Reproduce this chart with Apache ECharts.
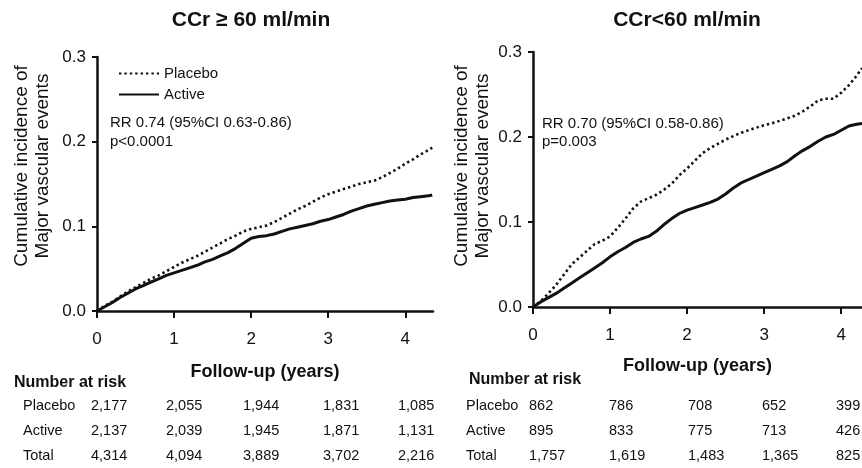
<!DOCTYPE html>
<html>
<head>
<meta charset="utf-8">
<script src="https://cdn.jsdelivr.net/npm/echarts@6/dist/echarts.min.js"></script>
<style>
html,body{margin:0;padding:0;background:#fff;}
#c{width:862px;height:468px;}
</style>
</head>
<body>
<div id="c"></div>
<script>
// ---- Data ----
const panelTitles = ['CCr \u2265 60 ml/min', 'CCr<60 ml/min'];
const seriesNames = ['Placebo', 'Active'];
const yTicks = [0, 0.1, 0.2, 0.3];
const xTicks = [0, 1, 2, 3, 4];

// Left panel (CCr >= 60)
const leftTime = [0,0.1,0.2,0.3,0.4,0.5,0.6,0.7,0.8,0.9,1.0,1.1,1.2,1.3,1.4,1.5,1.6,1.7,1.8,1.9,2.0,2.1,2.2,2.3,2.4,2.5,2.6,2.7,2.8,2.9,3.0,3.1,3.2,3.3,3.4,3.5,3.6,3.7,3.8,3.9,4.0,4.1,4.2,4.3,4.35];
const leftPlacebo = [0,0.006,0.011,0.017,0.023,0.028,0.033,0.038,0.042,0.047,0.052,0.057,0.061,0.065,0.070,0.075,0.080,0.085,0.089,0.094,0.097,0.099,0.101,0.105,0.110,0.115,0.120,0.124,0.129,0.134,0.138,0.141,0.144,0.147,0.150,0.152,0.154,0.158,0.163,0.168,0.174,0.179,0.185,0.190,0.193];
const leftActive = [0,0.005,0.010,0.016,0.021,0.026,0.030,0.034,0.038,0.042,0.045,0.048,0.051,0.054,0.058,0.061,0.065,0.069,0.074,0.080,0.086,0.088,0.089,0.091,0.094,0.097,0.099,0.101,0.103,0.106,0.108,0.111,0.114,0.118,0.121,0.124,0.126,0.128,0.130,0.131,0.132,0.134,0.135,0.136,0.137];

// Right panel (CCr < 60)
const rightTime = [0,0.1,0.2,0.3,0.4,0.5,0.6,0.7,0.8,0.9,1.0,1.1,1.2,1.3,1.4,1.5,1.6,1.7,1.8,1.9,2.0,2.1,2.2,2.3,2.4,2.5,2.6,2.7,2.8,2.9,3.0,3.1,3.2,3.3,3.4,3.5,3.6,3.7,3.8,3.9,4.0,4.1,4.2,4.27];
const rightPlacebo = [0,0.007,0.016,0.026,0.038,0.050,0.058,0.066,0.074,0.078,0.083,0.093,0.104,0.116,0.124,0.128,0.132,0.138,0.145,0.155,0.163,0.172,0.181,0.187,0.192,0.197,0.201,0.205,0.208,0.211,0.214,0.216,0.219,0.222,0.225,0.230,0.236,0.243,0.245,0.245,0.252,0.261,0.272,0.281];
const rightActive = [0,0.006,0.011,0.016,0.022,0.028,0.034,0.040,0.046,0.052,0.059,0.065,0.070,0.076,0.080,0.083,0.089,0.097,0.104,0.110,0.114,0.117,0.120,0.123,0.127,0.133,0.140,0.146,0.150,0.154,0.158,0.162,0.166,0.171,0.178,0.184,0.189,0.195,0.200,0.203,0.208,0.213,0.215,0.216];

const leftStats = ['RR 0.74 (95%CI 0.63-0.86)', 'p<0.0001'];
const rightStats = ['RR 0.70 (95%CI 0.58-0.86)', 'p=0.003'];

const riskHeader = 'Number at risk';
const riskRows = ['Placebo', 'Active', 'Total'];
const leftRiskPlacebo = [2177, 2055, 1944, 1831, 1085];
const leftRiskActive = [2137, 2039, 1945, 1871, 1131];
const leftRiskTotal = [4314, 4094, 3889, 3702, 2216];
const rightRiskPlacebo = [862, 786, 708, 652, 399];
const rightRiskActive = [895, 833, 775, 713, 426];
const rightRiskTotal = [1757, 1619, 1483, 1365, 825];

const yAxisName = ['Cumulative incidence of', 'Major vascular events'];
const xAxisName = 'Follow-up (years)';

// ---- Chart ----
const FONT = '"Liberation Sans", Arial, sans-serif';
const chart = echarts.init(document.getElementById('c'), null, {renderer: 'canvas'});
const zip = (t, v) => t.map((x, i) => [x, v[i]]);
const fmt = n => n.toLocaleString('en-US');

function xAxisCfg(gi, max, gap) {
  return {
    type: 'value', gridIndex: gi, min: 0, max: max,
    name: xAxisName, nameLocation: 'middle', nameGap: gap,
    nameTextStyle: {fontFamily: FONT, fontSize: 18, fontWeight: 'bold', color: '#111'},
    axisLine: {show: true, onZero: false, lineStyle: {color: '#111', width: 2.5}},
    axisTick: {show: true, inside: false, length: 7, lineStyle: {color: '#111', width: 2}, customValues: xTicks},
    axisLabel: {fontFamily: FONT, fontSize: 17, color: '#111', margin: 20, customValues: xTicks},
    splitLine: {show: false}
  };
}
function yAxisCfg(gi) {
  return {
    type: 'value', gridIndex: gi, min: 0, max: 0.3, interval: 0.1,
    axisLine: {show: true, lineStyle: {color: '#111', width: 2.5}},
    axisTick: {show: true, inside: false, length: 5, lineStyle: {color: '#111', width: 2}},
    axisLabel: {fontFamily: FONT, fontSize: 17, color: '#111', margin: 11, formatter: v => v.toFixed(1)},
    splitLine: {show: false}
  };
}
const dotted = {color: '#111', width: 2.6, type: [2.4, 3]};
const solid = {color: '#111', width: 3, type: 'solid'};

function lineSeries(name, gi, data, ls) {
  return {
    type: 'line', name: name, xAxisIndex: gi, yAxisIndex: gi, data: data,
    showSymbol: false, symbol: 'none', lineStyle: ls,
    itemStyle: {color: '#111'}, silent: true, animation: false
  };
}

const graphics = [];
function txt(x, y, text, opts) {
  graphics.push(Object.assign({
    type: 'text', x: x, y: y,
    style: Object.assign({text: text, fontFamily: FONT, fontSize: 14.5, fill: '#111', align: 'left', verticalAlign: 'middle'}, opts || {})
  }));
}
// titles
txt(251, 20, panelTitles[0], {fontSize: 21, fontWeight: 'bold', align: 'center'});
txt(687, 20, panelTitles[1], {fontSize: 21, fontWeight: 'bold', align: 'center'});
// y axis names (rotated)
[[22, 43], [462, 483]].forEach(xs => {
  yAxisName.forEach((s, i) => {
    graphics.push({type: 'text', x: xs[i], y: 166, rotation: Math.PI / 2,
      style: {text: s, fontFamily: FONT, fontSize: 19, fill: '#111', align: 'center', verticalAlign: 'middle'}});
  });
});
// stats
txt(110, 123, leftStats[0], {fontSize: 15});
txt(110, 142, leftStats[1], {fontSize: 15});
txt(542, 124, rightStats[0], {fontSize: 15});
txt(542, 142, rightStats[1], {fontSize: 15});
// risk tables
function table(hx, hy, lx, colX, rows) {
  txt(hx, hy, riskHeader, {fontSize: 16, fontWeight: 'bold'});
  const ys = [406, 431, 456];
  rows.forEach((vals, r) => {
    txt(lx, ys[r], riskRows[r]);
    vals.forEach((v, c) => txt(colX[c], ys[r], fmt(v)));
  });
}
table(14, 383, 23, [91, 166, 243, 323, 398], [leftRiskPlacebo, leftRiskActive, leftRiskTotal]);
table(469, 380, 466, [529, 609, 688, 762, 836], [rightRiskPlacebo, rightRiskActive, rightRiskTotal]);

const option = {
  backgroundColor: '#fff',
  animation: false,
  grid: [
    {left: 97, top: 57, width: 336, height: 254},
    {left: 533, top: 52, width: 329, height: 255}
  ],
  xAxis: [xAxisCfg(0, 4.36, 52), xAxisCfg(1, 4.27, 50)],
  yAxis: [yAxisCfg(0), yAxisCfg(1)],
  legend: {
    data: seriesNames, orient: 'vertical', left: 113, top: 61,
    itemWidth: 40, itemHeight: 12, itemGap: 6, selectedMode: false,
    itemStyle: {opacity: 0, borderWidth: 0},
    textStyle: {fontFamily: FONT, fontSize: 15, color: '#111'}
  },
  series: [
    lineSeries(seriesNames[0], 0, zip(leftTime, leftPlacebo), dotted),
    lineSeries(seriesNames[1], 0, zip(leftTime, leftActive), solid),
    lineSeries(seriesNames[0] + ' ', 1, zip(rightTime, rightPlacebo), dotted),
    lineSeries(seriesNames[1] + ' ', 1, zip(rightTime, rightActive), solid)
  ],
  graphic: graphics
};
chart.setOption(option);
</script>
</body>
</html>
